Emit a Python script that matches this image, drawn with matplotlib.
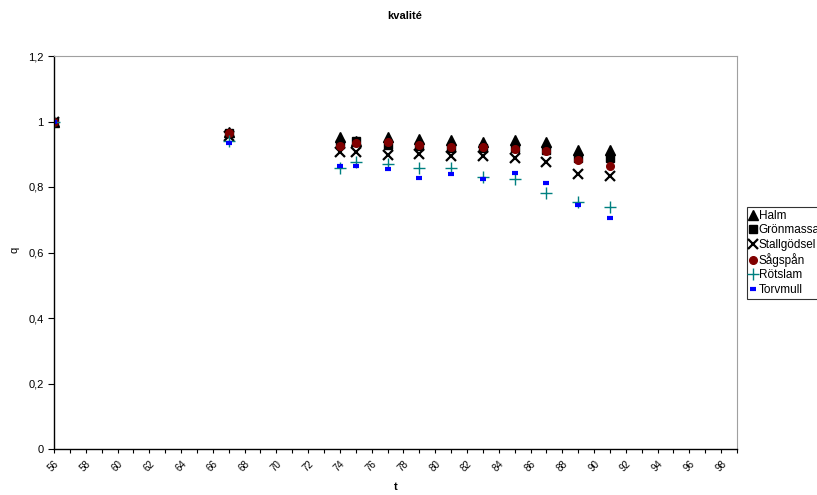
import numpy as np
import matplotlib
matplotlib.use("Agg")
import matplotlib.pyplot as plt

plt.rcParams['font.family'] = ['Liberation Sans', 'DejaVu Sans']

# data
t = [56, 67, 74, 75, 77, 79, 81, 83, 85, 87, 89, 91]
halm = [1.0, 0.968, 0.952, 0.940, 0.952, 0.948, 0.945, 0.938, 0.945, 0.938, 0.912, 0.912]
gronmassa = [1.0, 0.965, 0.931, 0.939, 0.928, 0.925, 0.918, 0.918, 0.918, 0.913, 0.888, 0.890]
stallgodsel = [1.0, 0.955, 0.908, 0.908, 0.898, 0.901, 0.895, 0.895, 0.888, 0.877, 0.841, 0.834]
sagspan = [1.0, 0.966, 0.925, 0.933, 0.936, 0.928, 0.921, 0.921, 0.917, 0.911, 0.883, 0.864]
rotslam = [1.0, 0.940, 0.859, 0.875, 0.870, 0.859, 0.859, 0.831, 0.823, 0.783, 0.755, 0.739]
torvmull = [1.0, 0.934, 0.864, 0.864, 0.855, 0.828, 0.840, 0.824, 0.844, 0.813, 0.744, 0.706]

xticks = list(range(56, 99, 2))
yticks = [0, 0.2, 0.4, 0.6, 0.8, 1.0, 1.2]
ylabels = ['0', '0,2', '0,4', '0,6', '0,8', '1', '1,2']

fig = plt.figure(figsize=(8.17, 4.95), dpi=100)
ax = fig.add_axes([54 / 817, 1 - 449 / 495, 683 / 817, 393 / 495])

ax.plot(t, halm, linestyle='none', marker='^', ms=6.5, color='black', mec='black', label='Halm')
ax.plot(t, gronmassa, linestyle='none', marker='s', ms=6, color='black', mec='black', label='Grönmassa')
ax.plot(t, stallgodsel, linestyle='none', marker='x', ms=6.5, mew=1.6, color='black', label='Stallgödsel')
ax.plot(t, sagspan, linestyle='none', marker='o', ms=5.5, color='#800000', mec='#800000', label='Sågspån')
ax.plot(t, rotslam, linestyle='none', marker='+', ms=8, mew=1.0, color='#008080', label='Rötslam')
ax.plot(t, torvmull, linestyle='none', marker='_', ms=5, mew=3, color='#0000ff', label='Torvmull')

ax.set_xlim(56, 99)
ax.set_ylim(0, 1.2)
ax.set_xticks(range(56, 100), minor=True)
ax.set_xticks(xticks)
ax.set_xticklabels([str(v) for v in xticks], rotation=45, ha='right', rotation_mode='anchor', fontsize=7)
ax.set_yticks(yticks)
ax.set_yticklabels(ylabels, fontsize=8)
ax.tick_params(axis='x', which='both', direction='out', length=3, width=0.8, pad=4)
ax.tick_params(axis='y', direction='out', length=4, width=0.8)

for s in ['top', 'right']:
    ax.spines[s].set_color('#a0a0a0')
    ax.spines[s].set_linewidth(0.8)
for s in ['left', 'bottom']:
    ax.spines[s].set_color('black')
    ax.spines[s].set_linewidth(1.0)

fig.text(405 / 817, 1 - 16 / 495, 'kvalité', ha='center', va='center', fontsize=8, fontweight='bold')
fig.text(396 / 817, 1 - 487 / 495, 't', ha='center', va='center', fontsize=8, fontweight='bold')
fig.text(14 / 817, 1 - 250 / 495, 'q', ha='center', va='center', rotation=90, fontsize=8)

leg = fig.legend(loc='upper left', bbox_to_anchor=(747 / 817, 1 - 207 / 495), fontsize=8.5,
                 frameon=True, fancybox=False, edgecolor='black', borderpad=0.25,
                 handlelength=0.6, handletextpad=0.15, labelspacing=0.2, borderaxespad=0,
                 markerscale=1.0)
leg.get_frame().set_linewidth(0.8)

fig.savefig('out.png', dpi=100)
